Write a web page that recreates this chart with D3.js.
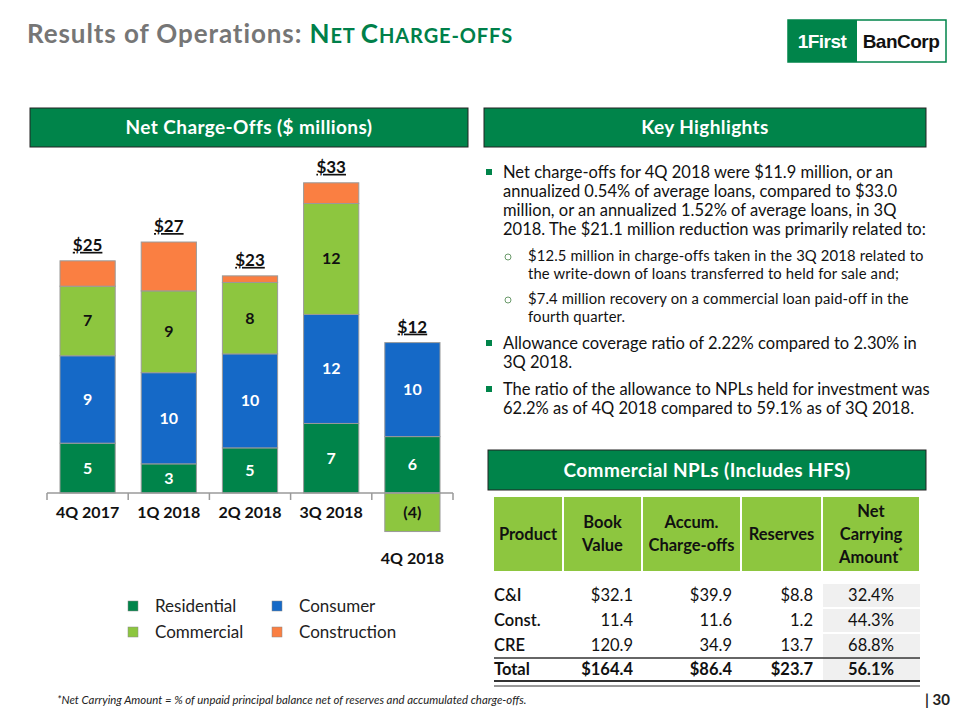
<!DOCTYPE html>
<html><head><meta charset="utf-8">
<script src="https://cdn.jsdelivr.net/npm/d3@7"></script>
<style>
html,body{margin:0;padding:0;background:#fff;}
svg{display:block;font-family:Lato, "Noto Sans", sans-serif;}
</style></head>
<body><svg id="c" width="960" height="720"></svg>
<script>
// ---------- DATA ----------
const quarters = ["4Q 2017","1Q 2018","2Q 2018","3Q 2018","4Q 2018"];
const residential  = [5.3, 3.1, 4.8, 7.4, 6.0];
const consumer     = [9.3, 9.7, 10.0, 11.6, 10.0];
const commercial   = [7.4, 8.7, 7.6, 11.8, -4.1];
const construction = [2.7, 5.2, 0.7, 2.2, 0.0];
const seriesNames  = ["Residential","Consumer","Commercial","Construction"];
const seriesColors = ["#00844A","#1569C7","#8DC63F","#FA7F42"];
const labelColors  = ["#fff","#fff","#111",null];

const bulletLines = [
  ["Net charge-offs for 4Q 2018 were $11.9 million, or an",
   "annualized 0.54% of average loans, compared to $33.0",
   "million, or an annualized 1.52% of average loans, in 3Q",
   "2018.  The $21.1 million reduction was primarily related to:"],
  ["Allowance coverage ratio of 2.22% compared to 2.30% in","3Q 2018."],
  ["The ratio of the allowance to NPLs held for investment was","62.2% as of 4Q 2018 compared to 59.1% as of 3Q 2018."]
];
const subBulletLines = [
  ["$12.5 million in charge-offs taken in the 3Q 2018 related to","the write-down of loans transferred to held for sale and;"],
  ["$7.4 million recovery on a commercial loan paid-off in the","fourth quarter."]
];

const tableHeaders = [["Product"],["Book","Value"],["Accum.","Charge-offs"],["Reserves"],["Net","Carrying","Amount"]];
const products     = ["C&I","Const.","CRE","Total"];
const bookValue    = ["$32.1","11.4","120.9","$164.4"];
const accumCO      = ["$39.9","11.6","34.9","$86.4"];
const reserves     = ["$8.8","1.2","13.7","$23.7"];
const netCarrying  = ["32.4%","44.3%","68.8%","56.1%"];

// ---------- DRAW ----------
const svg = d3.select("#c");
const DG = "#00844A";

// Title
const title = svg.append("text").attr("x",27).attr("y",43).attr("font-weight","bold").attr("letter-spacing",0.9);
title.append("tspan").attr("fill","#767676").attr("font-size",26).text("Results of Operations: ");
[["N",26],["ET ",20],["C",26],["HARGE-OFFS",20]].forEach(([t,s])=>{
  title.append("tspan").attr("fill","#00804A").attr("font-size",s).text(t);
});

// Logo
svg.append("rect").attr("x",788).attr("y",20).attr("width",158).attr("height",42).attr("fill","#fff").attr("stroke","#00844A").attr("stroke-width",1.5);
svg.append("rect").attr("x",788).attr("y",20).attr("width",69).attr("height",42).attr("fill","#00844A");
svg.append("text").attr("x",822).attr("y",48).attr("text-anchor","middle").attr("fill","#fff")
  .attr("font-family","'Liberation Sans',Arial,sans-serif").attr("font-weight","bold").attr("font-size",19).attr("letter-spacing",-0.5).text("1First");
svg.append("text").attr("x",901).attr("y",48).attr("text-anchor","middle").attr("fill","#111")
  .attr("font-family","'Liberation Sans',Arial,sans-serif").attr("font-weight","bold").attr("font-size",19).attr("letter-spacing",-0.5).text("BanCorp");

// Header boxes
function headerBox(x,y,w,h,label){
  svg.append("rect").attr("x",x).attr("y",y).attr("width",w).attr("height",h).attr("fill",DG).attr("stroke","#222").attr("stroke-width",1);
  svg.append("text").attr("x",x+w/2).attr("y",y+h/2+6.5).attr("text-anchor","middle").attr("fill","#fff")
    .attr("font-weight","bold").attr("font-size",19).attr("letter-spacing",0.4).text(label);
}
headerBox(30,108,438,39,"Net Charge-Offs ($ millions)");
headerBox(484,108,442,39,"Key Highlights");
headerBox(488,450,438,40,"Commercial NPLs (Includes HFS)");

// Chart
const x = d3.scaleBand().domain(quarters).range([47,453]).paddingInner(0.32).paddingOuter(0.16);
const y = d3.scaleLinear().domain([0,35]).range([493,164]);
const rows = quarters.map((q,i)=>({q, Residential:residential[i], Consumer:consumer[i], Commercial:commercial[i], Construction:construction[i]}));
const stack = d3.stack().keys(seriesNames).offset(d3.stackOffsetDiverging)(rows);

const g = svg.append("g");
stack.forEach((layer,li)=>{
  g.selectAll(null).data(layer.filter(d=>d[1]!==d[0])).enter().append("rect")
    .attr("x",d=>x(d.data.q)).attr("width",x.bandwidth())
    .attr("y",d=>y(Math.max(d[0],d[1]))).attr("height",d=>Math.abs(y(d[0])-y(d[1])))
    .attr("fill",seriesColors[li]).attr("stroke","#9a9a9a").attr("stroke-width",1);
  if(labelColors[li]){
    g.selectAll(null).data(layer).enter().append("text")
      .attr("x",d=>x(d.data.q)+x.bandwidth()/2).attr("y",d=>(y(d[0])+y(d[1]))/2+5.5)
      .attr("text-anchor","middle").attr("fill",labelColors[li]).attr("font-weight","bold").attr("font-size",16)
      .text(d=>{const v=d.data[seriesNames[li]]; return v<0?"("+Math.round(-v)+")":Math.round(v);});
  }
});

// axis
const axisG = svg.append("g").attr("transform","translate(0,493)");
axisG.append("line").attr("x1",47).attr("x2",453).attr("stroke","#9a9a9a").attr("stroke-width",1.5);
d3.range(quarters.length+1).forEach(i=>{
  const xx = 47 + i*(406/quarters.length);
  axisG.append("line").attr("x1",xx).attr("x2",xx).attr("y1",0).attr("y2",7).attr("stroke","#9a9a9a").attr("stroke-width",1.5);
});
quarters.forEach((q,i)=>{
  const neg = commercial[i] < 0;
  const yy = neg ? y(commercial[i]) + 32 : 518;
  svg.append("text").attr("x",x(q)+x.bandwidth()/2).attr("y",yy).attr("text-anchor","middle")
    .attr("font-weight","bold").attr("font-size",16).attr("fill","#111").text(q);
});

// totals
quarters.forEach((q,i)=>{
  const pos = [residential[i],consumer[i],commercial[i],construction[i]].filter(v=>v>0).reduce((a,b)=>a+b,0);
  const tot = residential[i]+consumer[i]+commercial[i]+construction[i];
  svg.append("text").attr("x",x(q)+x.bandwidth()/2).attr("y",y(pos)-10).attr("text-anchor","middle")
    .attr("font-weight","bold").attr("font-size",17).attr("fill","#111").attr("text-decoration","underline")
    .text("$"+Math.round(tot));
});

// legend
const legPos = [[133,606],[277,606],[133,632],[277,632]];
seriesNames.forEach((n,i)=>{
  const [lx,ly]=legPos[i];
  svg.append("rect").attr("x",lx-5).attr("y",ly-5).attr("width",10).attr("height",10).attr("fill",seriesColors[i]).attr("stroke","#888").attr("stroke-width",0.5);
  svg.append("text").attr("x",lx+22).attr("y",ly+6).attr("font-size",17).attr("fill","#222").text(n);
});

// Key highlights text
function bullet(yc){ svg.append("rect").attr("x",486).attr("y",yc-3).attr("width",6).attr("height",6).attr("fill",DG); }
function circ(yc){ svg.append("circle").attr("cx",508).attr("cy",yc+1).attr("r",3).attr("fill","none").attr("stroke","#6a9a6a").attr("stroke-width",1); }
function lines(arr,x0,y0,lh,fs,ls){
  arr.forEach((t,i)=>svg.append("text").attr("x",x0).attr("y",y0+i*lh).attr("font-size",fs).attr("letter-spacing",ls||0).attr("fill","#111").text(t));
}
bullet(172); lines(bulletLines[0],503,178,19,16.5);
circ(256); lines(subBulletLines[0],528,261,17.5,14.8,0.15);
circ(299); lines(subBulletLines[1],528,304,17.5,14.8,0.15);
bullet(343); lines(bulletLines[1],503,349,19,16.5);
bullet(389); lines(bulletLines[2],503,395,19,16.5);

// Table
const colEdges = [494,563,642,741,822,920];
tableHeaders.forEach((h,i)=>{
  const x0=colEdges[i]+ (i>0?1:0), x1=colEdges[i+1]-1;
  svg.append("rect").attr("x",x0).attr("y",497).attr("width",x1-x0).attr("height",74).attr("fill","#8DC63F");
  const cy = 534, lh = 23;
  h.forEach((t,j)=>{
    const yy = cy + (j-(h.length-1)/2)*lh + 5.5;
    const tx = svg.append("text").attr("x",(x0+x1)/2).attr("y",yy).attr("text-anchor","middle")
      .attr("font-weight","bold").attr("font-size",16.5).attr("fill","#111").text(t);
    if(i===4 && j===2) tx.append("tspan").attr("dy",-7).attr("font-size",11).text("*");
  });
});
const rowY = [595,620,645,669];
rowY.forEach((ry,r)=>{
  svg.append("rect").attr("x",823).attr("y",ry-11).attr("width",97).attr("height",23).attr("fill","#f0f0f0");
});
svg.append("line").attr("x1",494).attr("x2",920).attr("y1",658).attr("y2",658).attr("stroke","#333").attr("stroke-width",1.5);
svg.append("line").attr("x1",494).attr("x2",920).attr("y1",681).attr("y2",681).attr("stroke","#333").attr("stroke-width",2);
svg.append("line").attr("x1",494).attr("x2",920).attr("y1",686).attr("y2",686).attr("stroke","#333").attr("stroke-width",1);
rowY.forEach((ry,r)=>{
  const bold = r===3;
  const fw = bold ? "bold" : "600";
  const yy = ry+6;
  svg.append("text").attr("x",494).attr("y",yy).attr("font-size",16.5).attr("font-weight",fw).attr("fill","#111").text(products[r]);
  svg.append("text").attr("x",633).attr("y",yy).attr("text-anchor","end").attr("font-size",16.5).attr("font-weight",bold?"bold":"normal").attr("fill","#111").text(bookValue[r]);
  svg.append("text").attr("x",732).attr("y",yy).attr("text-anchor","end").attr("font-size",16.5).attr("font-weight",bold?"bold":"normal").attr("fill","#111").text(accumCO[r]);
  svg.append("text").attr("x",813).attr("y",yy).attr("text-anchor","end").attr("font-size",16.5).attr("font-weight",bold?"bold":"normal").attr("fill","#111").text(reserves[r]);
  svg.append("text").attr("x",871).attr("y",yy).attr("text-anchor","middle").attr("font-size",16.5).attr("font-weight",bold?"bold":"normal").attr("fill","#111").text(netCarrying[r]);
});

// Footnote & page
svg.append("text").attr("x",57).attr("y",704).attr("font-size",11.4).attr("font-style","italic").attr("fill","#222")
  .text("*Net Carrying Amount = % of unpaid principal balance net of reserves and accumulated charge-offs.");
svg.append("text").attr("x",950).attr("y",705).attr("text-anchor","end").attr("font-size",15).attr("font-weight","bold").attr("fill","#222").text("| 30");
</script>
</body></html>
